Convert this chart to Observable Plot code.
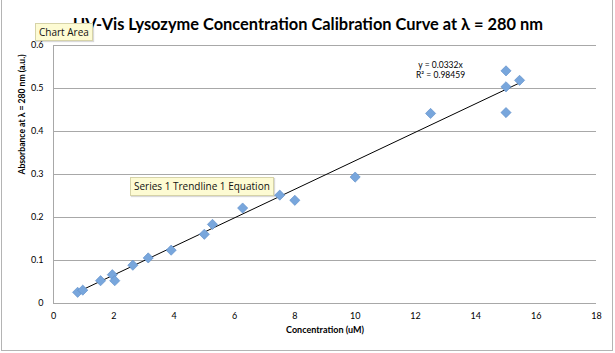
<!DOCTYPE html>
<html>
<head>
<meta charset="utf-8">
<script src="https://cdn.jsdelivr.net/npm/d3@7"></script>
<script src="https://cdn.jsdelivr.net/npm/@observablehq/plot@0.6"></script>
<style>
  html, body { margin: 0; padding: 0; background: #fff; }
  #wrap { position: relative; width: 615px; height: 353px; overflow: hidden; }
  #wrap svg { position: absolute; left: 0; top: 0; }
  .tip { position: absolute; background: #fdfbd3; border: 1px solid #d6d3a8; font-family: "Open Sans", sans-serif; font-size: 10px; color: #111; line-height: 16px; padding: 0 3px; white-space: nowrap; box-shadow: 1px 1px 1px rgba(0,0,0,0.15); }
  .frame { position: absolute; left: 1px; top: -2px; width: 612px; height: 353px; border: 1px solid #b4b4b4; box-sizing: border-box; pointer-events: none; }
</style>
</head>
<body>
<div id="wrap"></div>
<script>
// ---- data ----
const concentration = [0.8, 0.97, 1.56, 1.95, 2.03, 2.63, 3.14, 3.9, 5.0, 5.27, 6.27, 7.5, 8.0, 10.0, 12.5, 15.0, 15.0, 15.0, 15.45];
const absorbance    = [0.026, 0.031, 0.053, 0.067, 0.053, 0.089, 0.106, 0.124, 0.161, 0.184, 0.222, 0.252, 0.240, 0.294, 0.442, 0.541, 0.504, 0.444, 0.519];
const slope = 0.0332;
const rSquared = "0.98459";
const xTicks = [0, 2, 4, 6, 8, 10, 12, 14, 16, 18];
const yTicks = [0, 0.1, 0.2, 0.3, 0.4, 0.5, 0.6];
const titleText = "UV-Vis Lysozyme Concentration Calibration Curve at λ = 280 nm";
const xLabel = "Concentration (uM)";
const yLabel = "Absorbance at λ = 280 nm (a.u.)";

const points = concentration.map((c, i) => ({x: c, y: absorbance[i]}));
const xMin = d3.min(concentration), xMax = d3.max(concentration);
const trend = [{x: xMin, y: slope * xMin}, {x: xMax, y: slope * xMax}];
const equation = [{x: 12.83, y: 0.543, text: `y = ${slope}x\nR² = ${rSquared}`}];

const grid = "#a8a8a8";
const chart = Plot.plot({
  width: 615,
  height: 353,
  marginLeft: 53,
  marginRight: 19,
  marginTop: 45,
  marginBottom: 50,
  style: {fontFamily: "Lato, sans-serif", background: "transparent", overflow: "visible", color: "#000"},
  x: {domain: [0, 18]},
  y: {domain: [0, 0.6]},
  marks: [
    Plot.gridY(yTicks, {stroke: grid, strokeOpacity: 1, strokeWidth: 1}),
    Plot.ruleX([0], {stroke: grid, strokeWidth: 1}),
    Plot.axisY(yTicks, {tickSize: 0, tickPadding: 10, fontSize: 9, label: null, tickFormat: d3.format("")}),
    Plot.axisX(xTicks, {tickSize: 0, tickPadding: 9, fontSize: 9, label: null}),
    Plot.line(trend, {x: "x", y: "y", stroke: "#000", strokeWidth: 1}),
    Plot.dot(points, {x: "x", y: "y", symbol: "diamond2", r: 4.6, fill: "#78a6dc", stroke: "#5b8cc8", strokeWidth: 0.6}),
    Plot.text(equation, {x: "x", y: "y", text: "text", fontSize: 8.5, lineHeight: 1.2, fill: "#000"}),
    Plot.text([titleText], {frameAnchor: "top", dx: -17, dy: -16, lineAnchor: "bottom", fontSize: 16.4, fontWeight: "bold", fill: "#000"}),
    Plot.text([xLabel], {frameAnchor: "bottom", dy: 29, fontSize: 9, fontWeight: "bold", fill: "#000"}),
    Plot.text([yLabel], {frameAnchor: "left", dx: -31, rotate: -90, fontSize: 8.6, fontWeight: "bold", fill: "#000"})
  ]
});
const wrap = document.getElementById("wrap");
wrap.appendChild(chart);

const frame = document.createElement("div");
frame.className = "frame";
wrap.appendChild(frame);

function tip(text, left, top, lh) {
  const d = document.createElement("div");
  d.className = "tip";
  d.textContent = text;
  d.style.left = left + "px";
  d.style.top = top + "px";
  d.style.lineHeight = lh + "px";
  wrap.appendChild(d);
}
tip("Chart Area", 35, 23, 16);
tip("Series 1 Trendline 1 Equation", 130, 177, 17);
</script>
</body>
</html>
